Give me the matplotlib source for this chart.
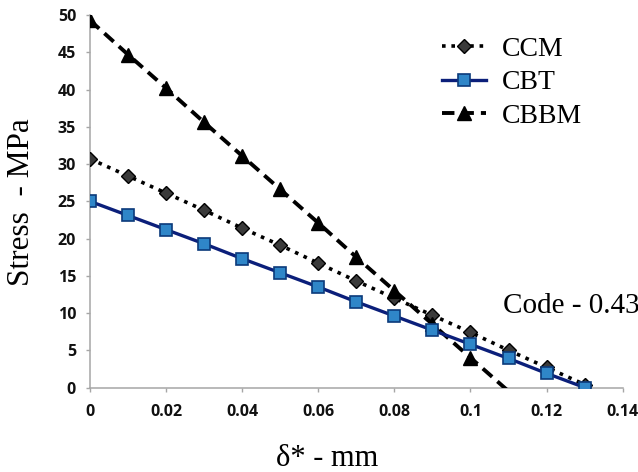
import matplotlib
matplotlib.use("Agg")
import matplotlib.pyplot as plt

# deflection values (mm)
delta = [0.0, 0.01, 0.02, 0.03, 0.04, 0.05, 0.06, 0.07, 0.08, 0.09, 0.10, 0.11, 0.12, 0.13]
ccm = [30.7, 28.4, 26.1, 23.8, 21.4, 19.1, 16.7, 14.3, 12.0, 9.7, 7.4, 5.0, 2.7, 0.4]
cbt = [25.0, 23.1, 21.2, 19.3, 17.3, 15.4, 13.5, 11.5, 9.6, 7.7, 5.8, 3.9, 1.9, 0.0]
delta_cbbm = [0.0, 0.01, 0.02, 0.03, 0.04, 0.05, 0.06, 0.07, 0.08, 0.09, 0.10, 0.11]
cbbm = [49.3, 44.7, 40.2, 35.6, 31.1, 26.6, 22.1, 17.5, 13.0, 8.5, 4.0, -0.5]

xticks = [0, 0.02, 0.04, 0.06, 0.08, 0.1, 0.12, 0.14]
xtick_labels = ["0", "0.02", "0.04", "0.06", "0.08", "0.1", "0.12", "0.14"]
yticks = [0, 5, 10, 15, 20, 25, 30, 35, 40, 45, 50]

serif = "Liberation Serif"

fig = plt.figure(figsize=(6.38, 4.72), dpi=100)
ax = fig.add_axes([0.141, 0.179, 0.835, 0.789])

ax.plot(delta, ccm, linestyle=(0, (1, 1.6)), color="black", lw=2.6,
        marker="D", ms=7, mfc="#3a3a3a", mec="black", mew=1, label="CCM", zorder=3)
ax.plot(delta, cbt, linestyle="-", color="#0b1f7a", lw=2.4,
        marker="s", ms=9, mfc="#2f86c8", mec="#0b3a7a", mew=1.2, label="CBT", zorder=4)
ax.plot(delta_cbbm, cbbm, linestyle=(0, (3.2, 1.8)), color="black", lw=2.8,
        marker="^", ms=10, mfc="black", mec="black", markevery=slice(0, 11),
        label="CBBM", zorder=3)

ax.set_xlim(0, 0.14)
ax.set_ylim(0, 50)
ax.set_xticks(xticks)
ax.set_xticklabels(xtick_labels)
ax.set_yticks(yticks)

for side in ["top", "right"]:
    ax.spines[side].set_visible(False)
for side in ["left", "bottom"]:
    ax.spines[side].set_color("#a6a6a6")
    ax.spines[side].set_linewidth(1.1)

ax.tick_params(axis="both", direction="out", length=3, width=1, color="#a6a6a6")
ax.tick_params(axis="x", pad=9)
ax.tick_params(axis="y", pad=7)
for lbl in ax.get_xticklabels() + ax.get_yticklabels():
    lbl.set_fontfamily("Open Sans")
    lbl.set_fontweight("bold")
    lbl.set_fontsize(11.5)
    lbl.set_color("#111111")

leg = ax.legend(loc="upper left", bbox_to_anchor=(0.64, 0.972), frameon=False,
                prop={"family": serif, "size": 20}, handlelength=1.6,
                handletextpad=0.55, labelspacing=0.28, borderaxespad=0)

fig.text(0.034, 0.572, "Stress  - MPa", rotation=90, ha="center", va="center",
         family=serif, fontsize=22.5)
fig.text(0.513, 0.012, "δ* - mm", ha="center", va="baseline", family=serif, fontsize=22)
fig.text(0.788, 0.337, "Code - 0.43", ha="left", va="baseline", family=serif, fontsize=21)
fig.text(0.569, 1.016, "(c)", ha="center", va="baseline", family=serif, fontsize=21)

fig.savefig("out.png", dpi=100)
